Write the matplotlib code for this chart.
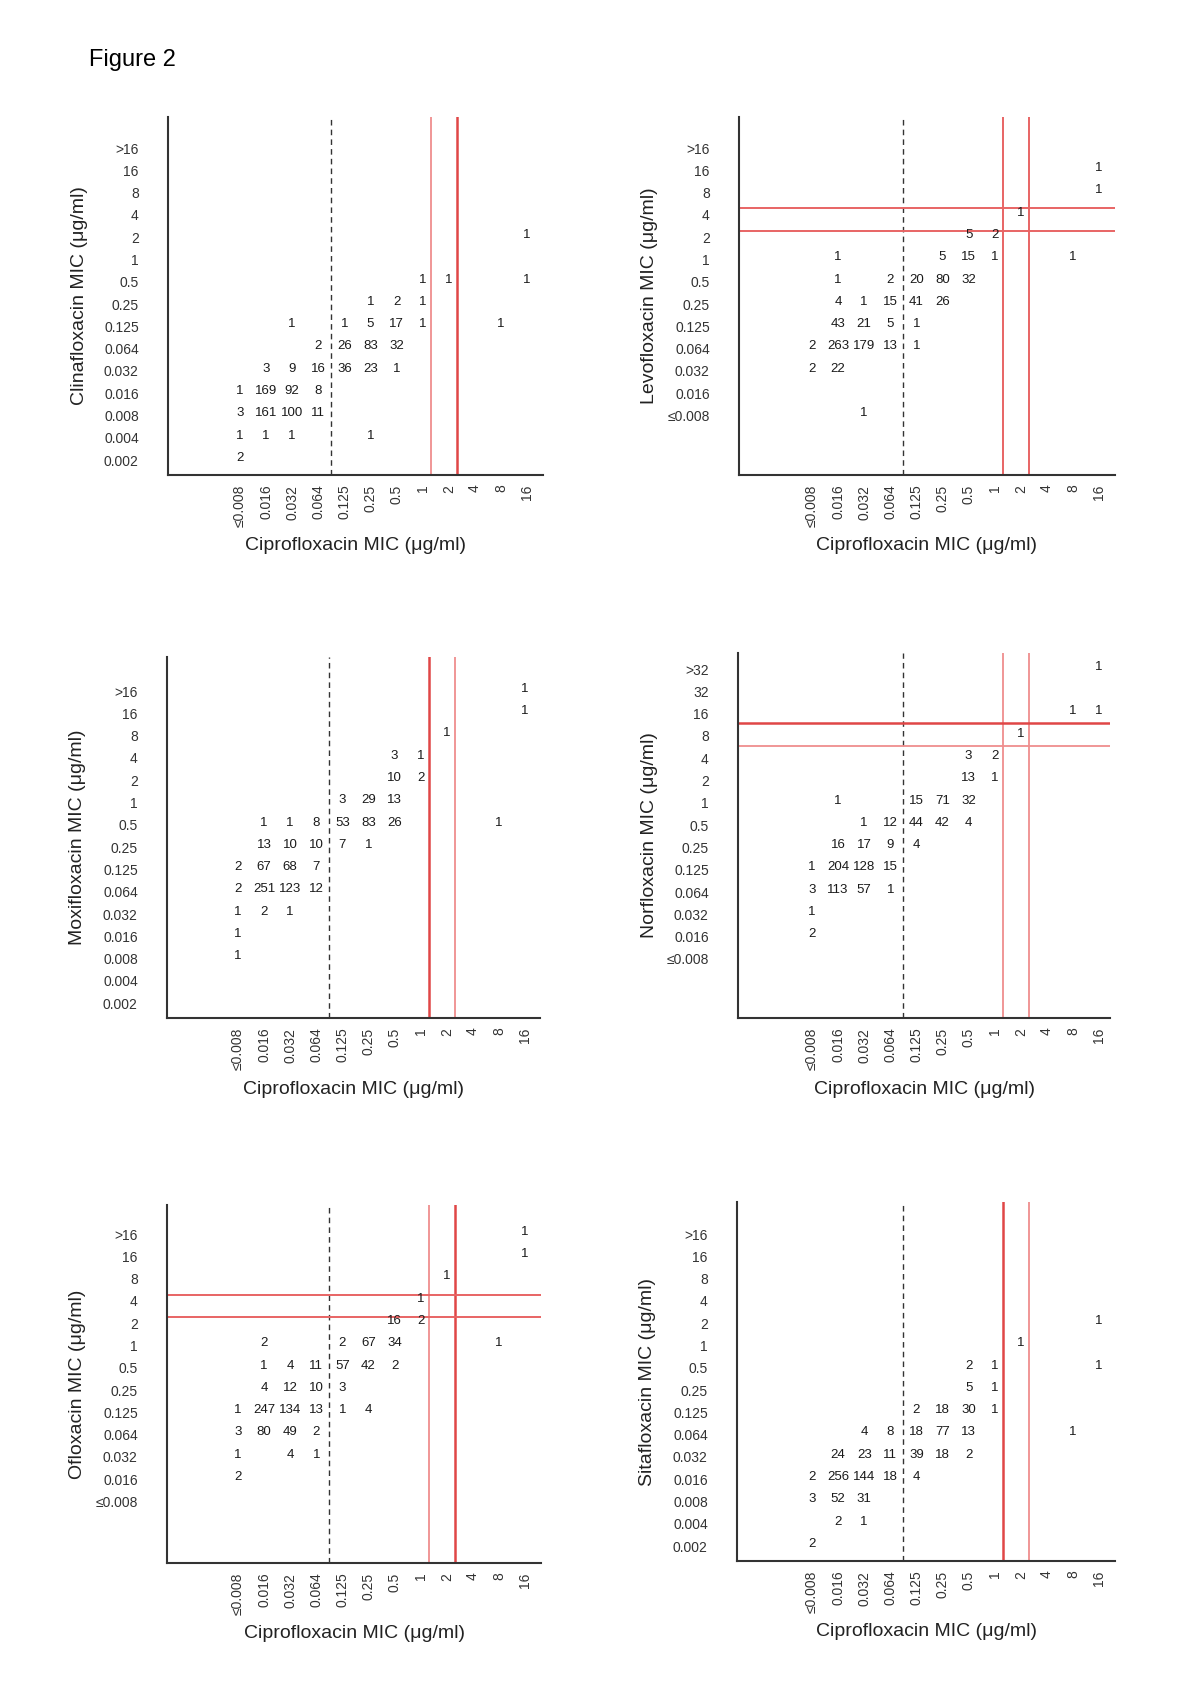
import matplotlib.pyplot as plt

plt.rcParams['font.family'] = ['Liberation Sans', 'DejaVu Sans']

# ciprofloxacin MIC columns (x axis of every panel)
cipro_ticks = ["≤0.008", "0.016", "0.032", "0.064", "0.125", "0.25", "0.5",
               "1", "2", "4", "8", "16"]

# y-axis MIC rows and counts per row: (cipro column index, number of isolates)
clina_rows = [">16", "16", "8", "4", "2", "1", "0.5", "0.25", "0.125",
              "0.064", "0.032", "0.016", "0.008", "0.004", "0.002"]
clina_counts = {
    "2": [(11, 1)],
    "0.5": [(7, 1), (8, 1), (11, 1)],
    "0.25": [(5, 1), (6, 2), (7, 1)],
    "0.125": [(2, 1), (4, 1), (5, 5), (6, 17), (7, 1), (10, 1)],
    "0.064": [(3, 2), (4, 26), (5, 83), (6, 32)],
    "0.032": [(1, 3), (2, 9), (3, 16), (4, 36), (5, 23), (6, 1)],
    "0.016": [(0, 1), (1, 169), (2, 92), (3, 8)],
    "0.008": [(0, 3), (1, 161), (2, 100), (3, 11)],
    "0.004": [(0, 1), (1, 1), (2, 1), (5, 1)],
    "0.002": [(0, 2)],
}

levo_rows = [">16", "16", "8", "4", "2", "1", "0.5", "0.25", "0.125",
             "0.064", "0.032", "0.016", "≤0.008"]
levo_counts = {
    "16": [(11, 1)],
    "8": [(11, 1)],
    "4": [(8, 1)],
    "2": [(6, 5), (7, 2)],
    "1": [(1, 1), (5, 5), (6, 15), (7, 1), (10, 1)],
    "0.5": [(1, 1), (3, 2), (4, 20), (5, 80), (6, 32)],
    "0.25": [(1, 4), (2, 1), (3, 15), (4, 41), (5, 26)],
    "0.125": [(1, 43), (2, 21), (3, 5), (4, 1)],
    "0.064": [(0, 2), (1, 263), (2, 179), (3, 13), (4, 1)],
    "0.032": [(0, 2), (1, 22)],
    "≤0.008": [(2, 1)],
}

moxi_rows = clina_rows
moxi_counts = {
    ">16": [(11, 1)],
    "16": [(11, 1)],
    "8": [(8, 1)],
    "4": [(6, 3), (7, 1)],
    "2": [(6, 10), (7, 2)],
    "1": [(4, 3), (5, 29), (6, 13)],
    "0.5": [(1, 1), (2, 1), (3, 8), (4, 53), (5, 83), (6, 26), (10, 1)],
    "0.25": [(1, 13), (2, 10), (3, 10), (4, 7), (5, 1)],
    "0.125": [(0, 2), (1, 67), (2, 68), (3, 7)],
    "0.064": [(0, 2), (1, 251), (2, 123), (3, 12)],
    "0.032": [(0, 1), (1, 2), (2, 1)],
    "0.016": [(0, 1)],
    "0.008": [(0, 1)],
}

norflox_rows = [">32", "32", "16", "8", "4", "2", "1", "0.5", "0.25", "0.125",
                "0.064", "0.032", "0.016", "≤0.008"]
norflox_counts = {
    ">32": [(11, 1)],
    "16": [(10, 1), (11, 1)],
    "8": [(8, 1)],
    "4": [(6, 3), (7, 2)],
    "2": [(6, 13), (7, 1)],
    "1": [(1, 1), (4, 15), (5, 71), (6, 32)],
    "0.5": [(2, 1), (3, 12), (4, 44), (5, 42), (6, 4)],
    "0.25": [(1, 16), (2, 17), (3, 9), (4, 4)],
    "0.125": [(0, 1), (1, 204), (2, 128), (3, 15)],
    "0.064": [(0, 3), (1, 113), (2, 57), (3, 1)],
    "0.032": [(0, 1)],
    "0.016": [(0, 2)],
}

oflox_rows = levo_rows
oflox_counts = {
    ">16": [(11, 1)],
    "16": [(11, 1)],
    "8": [(8, 1)],
    "4": [(7, 1)],
    "2": [(6, 16), (7, 2)],
    "1": [(1, 2), (4, 2), (5, 67), (6, 34), (10, 1)],
    "0.5": [(1, 1), (2, 4), (3, 11), (4, 57), (5, 42), (6, 2)],
    "0.25": [(1, 4), (2, 12), (3, 10), (4, 3)],
    "0.125": [(0, 1), (1, 247), (2, 134), (3, 13), (4, 1), (5, 4)],
    "0.064": [(0, 3), (1, 80), (2, 49), (3, 2)],
    "0.032": [(0, 1), (2, 4), (3, 1)],
    "0.016": [(0, 2)],
}

sita_rows = clina_rows
sita_counts = {
    "2": [(11, 1)],
    "1": [(8, 1)],
    "0.5": [(6, 2), (7, 1), (11, 1)],
    "0.25": [(6, 5), (7, 1)],
    "0.125": [(4, 2), (5, 18), (6, 30), (7, 1)],
    "0.064": [(2, 4), (3, 8), (4, 18), (5, 77), (6, 13), (10, 1)],
    "0.032": [(1, 24), (2, 23), (3, 11), (4, 39), (5, 18), (6, 2)],
    "0.016": [(0, 2), (1, 256), (2, 144), (3, 18), (4, 4)],
    "0.008": [(0, 3), (1, 52), (2, 31)],
    "0.004": [(1, 2), (2, 1)],
    "0.002": [(0, 2)],
}

W, H = 1200, 1698
COL_PX = 26.1
ROW_PX = 22.3
LIGHT = dict(color="#ef8e8e", lw=1.3)
DARK = dict(color="#e04646", lw=1.8)
MID = dict(color="#e86464", lw=1.4)

# box = (left, right, top, bottom) in pixels, row0/col0 = pixel of first row/col
panels = [
    dict(name="Clinafloxacin", rows=clina_rows, counts=clina_counts,
         box=(168, 543, 117, 475), row0=148, col0=240,
         vlines=[LIGHT, DARK], hlines=[]),
    dict(name="Levofloxacin", rows=levo_rows, counts=levo_counts,
         box=(739, 1115, 117, 475), row0=148, col0=812,
         vlines=[MID, MID], hlines=[(2.7, MID), (3.7, MID)]),
    dict(name="Moxifloxacin", rows=moxi_rows, counts=moxi_counts,
         box=(167, 540, 657, 1018), row0=691, col0=238,
         vlines=[DARK, LIGHT], hlines=[]),
    dict(name="Norfloxacin", rows=norflox_rows, counts=norflox_counts,
         box=(738, 1110, 653, 1018), row0=669, col0=812,
         vlines=[LIGHT, LIGHT], hlines=[(2.43, DARK), (3.45, LIGHT)]),
    dict(name="Ofloxacin", rows=oflox_rows, counts=oflox_counts,
         box=(167, 541, 1205, 1563), row0=1234, col0=238,
         vlines=[LIGHT, DARK], hlines=[(2.72, MID), (3.72, MID)]),
    dict(name="Sitafloxacin", rows=sita_rows, counts=sita_counts,
         box=(737, 1115, 1202, 1561), row0=1234, col0=812,
         vlines=[DARK, LIGHT], hlines=[]),
]

fig = plt.figure(figsize=(W / 100, H / 100), dpi=100)
fig.text(89 / W, 1 - 60 / H, "Figure 2", fontsize=17, ha="left", va="center")

for p in panels:
    left, right, top, bottom = p["box"]
    ax = fig.add_axes([left / W, 1 - bottom / H, (right - left) / W, (bottom - top) / H])
    ax.set_xlim((left - p["col0"]) / COL_PX, (right - p["col0"]) / COL_PX)
    ax.set_ylim((bottom - p["row0"]) / ROW_PX, (top - p["row0"]) / ROW_PX)

    for row_label, cells in p["counts"].items():
        r = p["rows"].index(row_label)
        for c, n in cells:
            ax.text(c, r - 0.1, str(n), fontsize=9.5, ha="center", va="center", color="#1a1a1a")

    ax.axvline(3.5, color="#333333", lw=1.0, ls=(0, (4, 3)))
    for x, st in zip([7.3, 8.3], p["vlines"]):
        ax.axvline(x, **st)
    for y, st in p["hlines"]:
        ax.axhline(y, **st)

    ax.set_xticks(range(len(cipro_ticks)))
    ax.set_xticklabels(cipro_ticks, rotation=90, fontsize=10, color="#333333")
    ax.set_yticks(range(len(p["rows"])))
    ax.set_yticklabels(p["rows"], fontsize=10, color="#333333")
    ax.tick_params(axis="x", length=0, pad=7)
    ax.tick_params(axis="y", length=0, pad=21)

    for s in ["top", "right"]:
        ax.spines[s].set_visible(False)
    for s in ["left", "bottom"]:
        ax.spines[s].set_color("#333333")
        ax.spines[s].set_linewidth(1.5)

    ax.set_xlabel("Ciprofloxacin MIC (μg/ml)", fontsize=14, va="center", color="#222222")
    ax.xaxis.set_label_coords(0.5, -71 / (bottom - top))
    ax.set_ylabel(p["name"] + " MIC (μg/ml)", fontsize=14, va="center", color="#222222")
    ax.yaxis.set_label_coords(-89 / (right - left), 0.5)

fig.savefig("out.png", dpi=100, facecolor="white")
